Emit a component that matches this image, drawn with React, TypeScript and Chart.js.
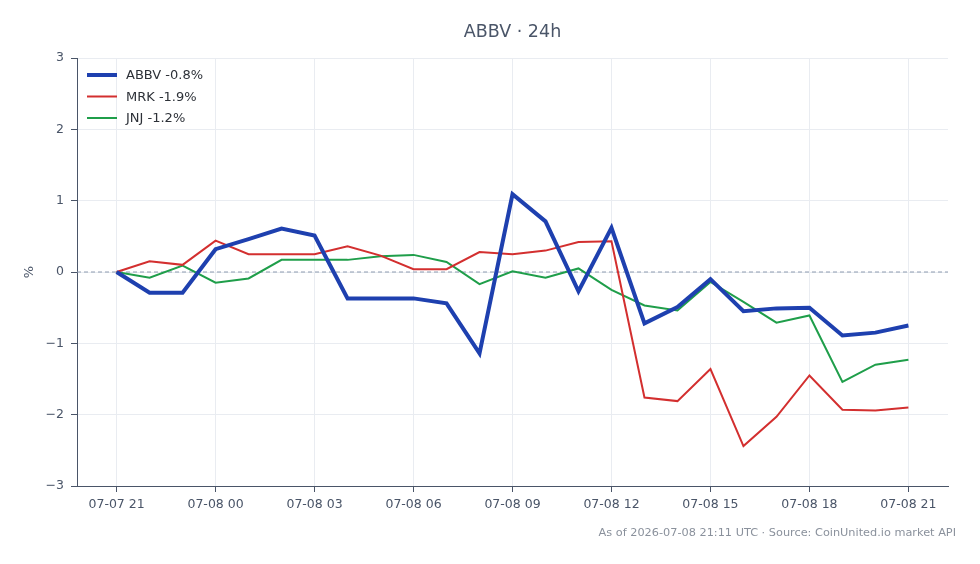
import React, { useEffect, useRef } from "react";
import { Chart, registerables } from "chart.js";

Chart.register(...registerables);

const hours = [0, 1, 2, 3, 4, 5, 6, 7, 8, 9, 10, 11, 12, 13, 14, 15, 16, 17, 18, 19, 20, 21, 22, 23, 24];
const tickHours = [0, 3, 6, 9, 12, 15, 18, 21, 24];
const tickLabels = ["07-07 21", "07-08 00", "07-08 03", "07-08 06", "07-08 09", "07-08 12", "07-08 15", "07-08 18", "07-08 21"];

const abbv = [0, -0.29, -0.29, 0.32, 0.46, 0.61, 0.51, -0.37, -0.37, -0.37, -0.44, -1.14, 1.09, 0.71, -0.27, 0.62, -0.72, -0.49, -0.1, -0.55, -0.51, -0.5, -0.89, -0.85, -0.75];
const mrk = [0, 0.15, 0.1, 0.44, 0.25, 0.25, 0.25, 0.36, 0.23, 0.04, 0.04, 0.28, 0.25, 0.3, 0.42, 0.43, -1.76, -1.81, -1.36, -2.44, -2.03, -1.45, -1.93, -1.94, -1.9];
const jnj = [0, -0.08, 0.09, -0.15, -0.09, 0.17, 0.17, 0.17, 0.22, 0.24, 0.14, -0.17, 0.01, -0.08, 0.05, -0.25, -0.47, -0.54, -0.14, -0.42, -0.71, -0.61, -1.54, -1.3, -1.23];

const seriesLabels = ["ABBV -0.8%", "MRK -1.9%", "JNJ -1.2%"];
const titleText = "ABBV · 24h";
const footerText = "As of 2026-07-08 21:11 UTC · Source: CoinUnited.io market API";
const yTicks = [-3, -2, -1, 0, 1, 2, 3];

const FONT = "'DejaVu Sans', sans-serif";
const DARK = "#4a5568";

const decorPlugin = {
  id: "decor",
  beforeDatasetsDraw(chart: any) {
    const { ctx, chartArea, scales } = chart;
    const y0 = scales.y.getPixelForValue(0);
    ctx.save();
    ctx.strokeStyle = "#8e9bb0";
    ctx.lineWidth = 1;
    ctx.setLineDash([4, 3]);
    ctx.beginPath();
    ctx.moveTo(chartArea.left, y0);
    ctx.lineTo(chartArea.right, y0);
    ctx.stroke();
    ctx.restore();
  },
  afterDraw(chart: any) {
    const { ctx, chartArea, width, height } = chart;
    ctx.save();
    // title
    ctx.fillStyle = DARK;
    ctx.font = `17.5px ${FONT}`;
    ctx.textAlign = "center";
    ctx.textBaseline = "middle";
    ctx.fillText(titleText, (chartArea.left + chartArea.right) / 2, 24);
    // footer
    ctx.fillStyle = "#8a919c";
    ctx.font = `11.3px ${FONT}`;
    ctx.textAlign = "right";
    ctx.fillText(footerText, width - 16, height - 23);
    // legend inside chart area
    const lx = chartArea.left + 10;
    let ly = chartArea.top + 17;
    ctx.textAlign = "left";
    ctx.font = `13px ${FONT}`;
    chart.data.datasets.forEach((ds: any) => {
      ctx.strokeStyle = ds.borderColor;
      ctx.lineWidth = ds.borderWidth;
      ctx.beginPath();
      ctx.moveTo(lx, ly);
      ctx.lineTo(lx + 30, ly);
      ctx.stroke();
      ctx.fillStyle = "#2d3138";
      ctx.fillText(ds.label, lx + 39, ly + 1);
      ly += 21.5;
    });
    ctx.restore();
  },
};

export default function App() {
  const ref = useRef<HTMLCanvasElement>(null);
  useEffect(() => {
    if (!ref.current) return;
    const mk = (arr: number[]) => hours.map((h, i) => ({ x: h, y: arr[i] }));
    const chart = new Chart(ref.current, {
      type: "line",
      data: {
        datasets: [
          { label: seriesLabels[0], data: mk(abbv), borderColor: "#1e40af", backgroundColor: "#1e40af", borderWidth: 4, pointRadius: 0, tension: 0 },
          { label: seriesLabels[1], data: mk(mrk), borderColor: "#d32f2f", backgroundColor: "#d32f2f", borderWidth: 2, pointRadius: 0, tension: 0 },
          { label: seriesLabels[2], data: mk(jnj), borderColor: "#1f9e4a", backgroundColor: "#1f9e4a", borderWidth: 2, pointRadius: 0, tension: 0 },
        ],
      },
      options: {
        animation: false,
        responsive: true,
        maintainAspectRatio: false,
        layout: { padding: { top: 50, right: 24, bottom: 40, left: 0 } },
        plugins: {
          legend: { display: false },
          tooltip: { enabled: false },
        },
        scales: {
          x: {
            type: "linear",
            min: -1.2,
            max: 25.2,
            afterBuildTicks: (scale: any) => {
              scale.ticks = tickHours.map((v) => ({ value: v }));
            },
            afterFit: (scale: any) => {
              scale.height = 30;
            },
            ticks: {
              callback: (v: any) => {
                const i = tickHours.indexOf(Number(v));
                return i >= 0 ? tickLabels[i] : "";
              },
              color: DARK,
              font: { family: FONT, size: 12.5 },
              maxRotation: 0,
              autoSkip: false,
              padding: 5,
            },
            grid: { color: "#e9ecf1", tickColor: DARK, tickLength: 6 },
            border: { color: DARK, width: 1 },
          },
          y: {
            type: "linear",
            min: -3,
            max: 3,
            afterBuildTicks: (scale: any) => {
              scale.ticks = yTicks.map((v) => ({ value: v }));
            },
            afterFit: (scale: any) => {
              scale.width = 69;
            },
            ticks: {
              callback: (v: any) => String(v).replace("-", "\u2212"),
              color: DARK,
              font: { family: FONT, size: 12.5 },
              padding: 7,
            },
            grid: { color: "#e9ecf1", tickColor: DARK, tickLength: 6 },
            border: { color: DARK, width: 1 },
            title: {
              display: true,
              text: "%",
              color: DARK,
              font: { family: FONT, size: 13 },
              padding: { top: 14, bottom: 4 },
            },
          },
        },
      },
      plugins: [decorPlugin],
    });
    return () => chart.destroy();
  }, []);
  return (
    <div style={{ width: 964, height: 548, position: "relative" }}>
      <canvas ref={ref} />
    </div>
  );
}
